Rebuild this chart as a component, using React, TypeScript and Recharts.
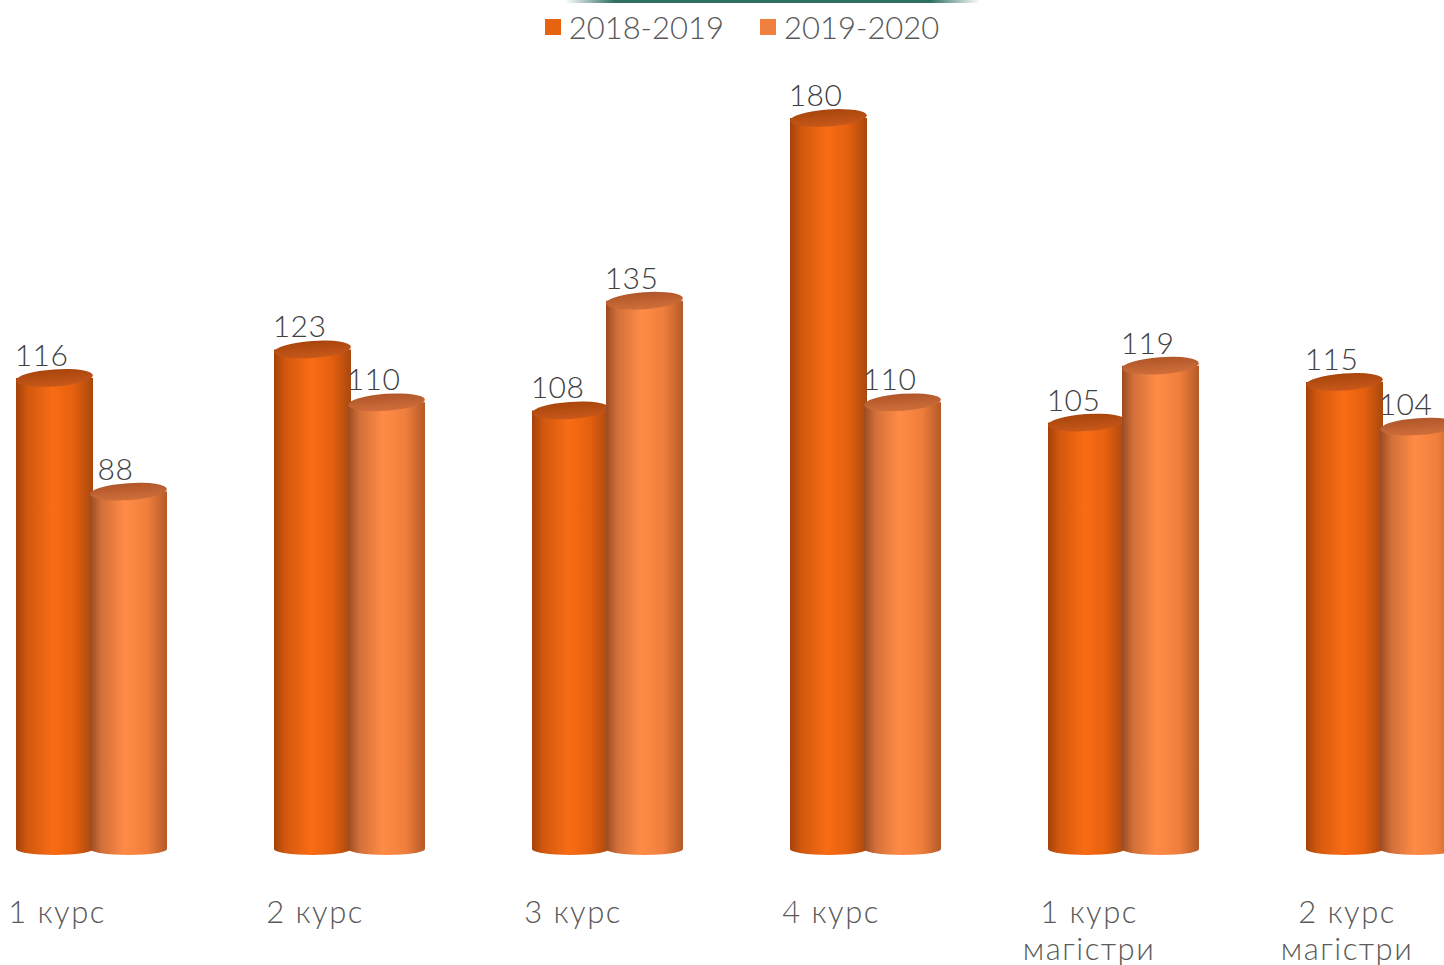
import { Bar, BarChart, LabelList, XAxis, YAxis } from 'recharts';

const categories = ['1 курс', '2 курс', '3 курс', '4 курс', '1 курс\nмагістри', '2 курс\nмагістри'];
const seriesNames = ['2018-2019', '2019-2020'];
const values2018 = [116, 123, 108, 180, 105, 115];
const values2019 = [88, 110, 135, 110, 119, 104];
const legendColors = ['#E8630F', '#F08040'];

const data = categories.map((name, i) => ({ name, s1: values2018[i], s2: values2019[i] }));

const FONT = 'Lato, "Noto Sans", sans-serif';

function Cylinder(props: any) {
  const { x, y, width, height, kind } = props;
  if (!height || height <= 0) return null;
  const rx = width / 2;
  const cx = x + rx;
  const bottom = y + height;
  const body = `M${x},${y} L${x},${bottom} A${rx},6 0 0 0 ${x + width},${bottom} L${x + width},${y} Z`;
  return (
    <g>
      <path d={body} fill={`url(#body${kind})`} />
      <ellipse cx={cx} cy={y} rx={rx} ry={8.5} fill={`url(#top${kind})`} transform={`rotate(-4 ${cx} ${y})`} />
    </g>
  );
}

function ValueLabel(props: any) {
  const { x, y, width, value } = props;
  return (
    <text x={x + width / 2 - 13} y={y - 12} textAnchor="middle" fontSize={30} fontWeight={300} letterSpacing={0.5} fontFamily={FONT} fill="#404040">
      {value}
    </text>
  );
}

function CategoryTick(props: any) {
  const { x, y, payload } = props;
  const lines = String(payload.value).split('\n');
  return (
    <text x={x - 34} y={y + 66} textAnchor="middle" fontSize={31} fontWeight={300} letterSpacing={1.5} fontFamily={FONT} fill="#595959">
      {lines.map((l, i) => (
        <tspan key={i} x={x - 34} dy={i === 0 ? 0 : 37}>
          {l}
        </tspan>
      ))}
    </text>
  );
}

export default function App() {
  return (
    <div style={{ position: 'absolute', left: 0, top: 0, width: 1444, height: 965, overflow: 'hidden', background: '#fff' }}>
      <div
        style={{
          position: 'absolute', left: 565, top: 0, width: 415, height: 3,
          background: 'linear-gradient(to right, rgba(47,111,100,0), #2F6F64 12%, #2F6F64 88%, rgba(47,111,100,0))',
        }}
      />
      <div style={{ position: 'absolute', top: 8, left: 0, width: 1484, display: 'flex', justifyContent: 'center', fontFamily: FONT, fontWeight: 300, fontSize: 31, color: '#595959' }}>
        {seriesNames.map((n, i) => (
          <div key={n} style={{ display: 'flex', alignItems: 'center', marginLeft: i ? 36 : 0 }}>
            <span style={{ width: 16, height: 16, background: legendColors[i], marginRight: 8 }} />
            <span>{n}</span>
          </div>
        ))}
      </div>
      <BarChart
        width={1548}
        height={965}
        data={data}
        margin={{ top: 118, right: 0, bottom: 0, left: 0 }}
        barGap={-3}
        style={{ position: 'absolute', left: -38, top: 0 }}
      >
        <defs>
          <linearGradient id="body0" x1="0" y1="0" x2="1" y2="0">
            <stop offset="0%" stopColor="#A3420A" />
            <stop offset="15%" stopColor="#D2580E" />
            <stop offset="48%" stopColor="#F96C14" />
            <stop offset="75%" stopColor="#E5600F" />
            <stop offset="100%" stopColor="#A8480E" />
          </linearGradient>
          <linearGradient id="body1" x1="0" y1="0" x2="1" y2="0">
            <stop offset="0%" stopColor="#9A4B22" />
            <stop offset="15%" stopColor="#D2703A" />
            <stop offset="45%" stopColor="#FF8B46" />
            <stop offset="75%" stopColor="#F07E3C" />
            <stop offset="100%" stopColor="#B35A28" />
          </linearGradient>
          <linearGradient id="top0" x1="0" y1="0" x2="0" y2="1">
            <stop offset="0%" stopColor="#A8450C" />
            <stop offset="100%" stopColor="#C8581A" />
          </linearGradient>
          <linearGradient id="top1" x1="0" y1="0" x2="0" y2="1">
            <stop offset="0%" stopColor="#B0562A" />
            <stop offset="100%" stopColor="#CF6E3A" />
          </linearGradient>
        </defs>
        <XAxis dataKey="name" height={116} tickLine={false} axisLine={false} interval={0} tick={<CategoryTick />} />
        <YAxis hide domain={[0, 180]} />
        <Bar dataKey="s1" name={seriesNames[0]} barSize={77} isAnimationActive={false} shape={(p: any) => <Cylinder {...p} kind={0} />}>
          <LabelList dataKey="s1" content={<ValueLabel />} />
        </Bar>
        <Bar dataKey="s2" name={seriesNames[1]} barSize={77} isAnimationActive={false} shape={(p: any) => <Cylinder {...p} kind={1} />}>
          <LabelList dataKey="s2" content={<ValueLabel />} />
        </Bar>
      </BarChart>
    </div>
  );
}
